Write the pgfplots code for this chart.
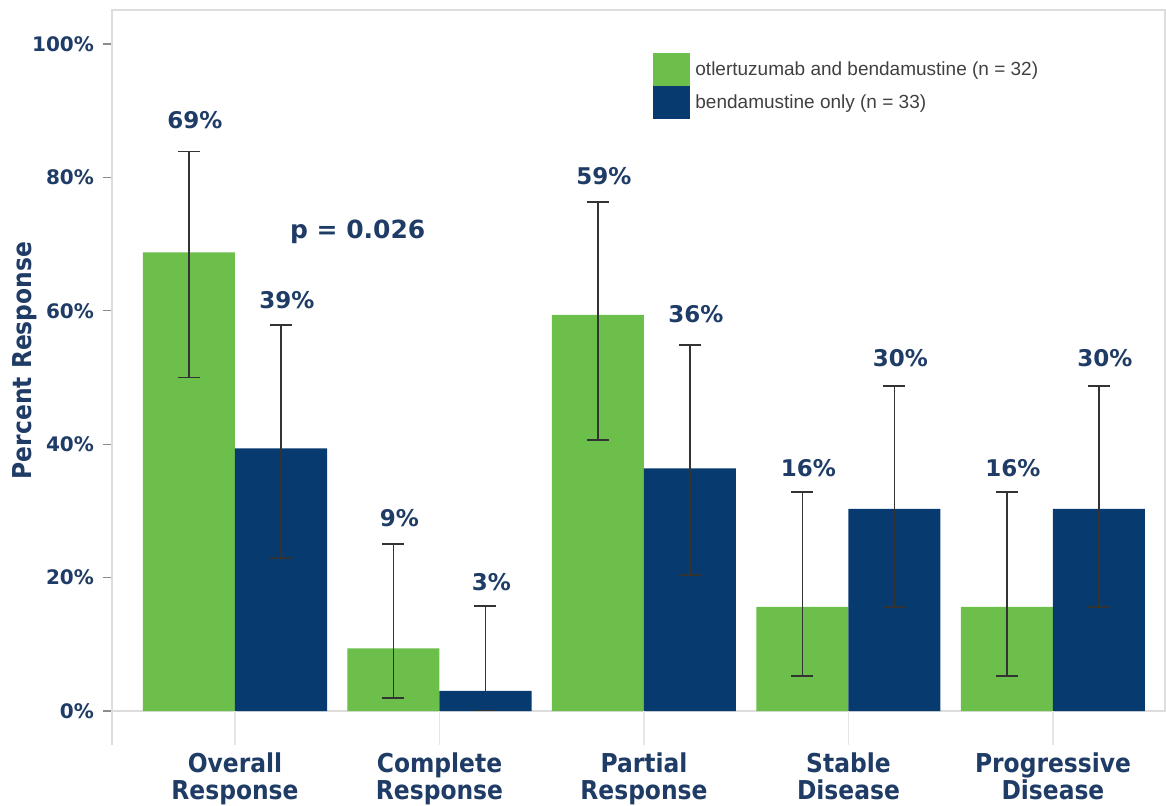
\documentclass[border=0pt]{standalone}
\usepackage{fontspec}
\setmainfont{DejaVu Sans}
\newfontfamily\cond{DejaVu Sans Condensed}
\newfontfamily\legfont{Liberation Sans}
\usepackage{pgfplots}
\usepackage{pgfplotstable}
\pgfplotsset{compat=1.18}
\definecolor{cgreen}{HTML}{6CBF4B}
\definecolor{cnavy}{HTML}{073A6E}
\definecolor{ctext}{HTML}{1F3C66}
\definecolor{cgrid}{HTML}{DDDDDD}

% x, value, error plus, error minus
\pgfplotstableread{
x y ep em
0 68.75 15.15 18.75
1 9.38 15.62 7.38
2 59.38 16.92 18.78
3 15.63 17.17 10.33
4 15.63 17.17 10.33
}\combo
\pgfplotstableread{
x y ep em
0 39.39 18.51 16.49
1 3.03 12.77 2.95
2 36.36 18.54 15.96
3 30.30 18.40 14.70
4 30.30 18.40 14.70
}\bendaonly
% label positions (x, label y, shown value)
\pgfplotstableread{
x ly v
0 88.6 69
1 28.9 9
2 80.2 59
3 36.4 16
4 36.4 16
}\combolab
\pgfplotstableread{
x ly v
0 61.6 39
1 19.3 3
2 59.5 36
3 52.9 30
4 52.9 30
}\bendalab

\begin{document}
\begin{tikzpicture}
\path[use as bounding box] (-56pt,-47pt) rectangle (527pt,355.5pt);
\begin{axis}[
  at={(0,0)}, anchor=south west,
  scale only axis, width=526.5pt, height=350.5pt,
  xmin=-0.6015, xmax=4.548, ymin=0, ymax=105.1,
  ybar, bar width=0.45,
  clip=false,
  axis line style={cgrid, line width=1pt},
  xtick={0,1,2,3,4},
  xticklabels={{Overall\\Response},{Complete\\Response},{Partial\\Response},{Stable\\Disease},{Progressive\\Disease}},
  xticklabel style={align=center, text=ctext, font=\cond\bfseries\fontsize{13}{13.5}\selectfont, yshift=-13pt},
  x tick style={draw=none},
  ytick={0,20,40,60,80,100},
  yticklabel={\pgfmathprintnumber{\tick}\%},
  yticklabel style={text=ctext, font=\bfseries\fontsize{10}{12}\selectfont, xshift=-1pt},
  /pgf/number format/assume math mode=true,
  ytick pos=left, xtick pos=bottom,
  tick align=outside, major tick length=4.5pt,
  y tick style={black!45, line width=0.6pt},
  ylabel={Percent Response},
  ylabel style={at={(axis description cs:-0.0825,0.5)}, anchor=center, text=ctext, font=\cond\bfseries\fontsize{13}{14}\selectfont},
  legend style={at={(0.5138,0.9387)}, anchor=north west, draw=none, fill=none, inner sep=0pt, row sep=0pt, column sep=2.5pt,
    font=\legfont\fontsize{9.5}{11}\selectfont, text=black!75, nodes={inner sep=0pt}, cells={anchor=west}},
  legend image code/.code={\fill[#1] (0pt,-8.25pt) rectangle (18.5pt,8.25pt);},
]
\addplot[fill=cgreen, draw=none, bar shift=-0.225,
  error bars/.cd, y dir=both, y explicit,
  error bar style={line width=0.9pt, black!80},
  error mark options={rotate=90, mark size=5.5pt, line width=0.9pt, black!80}]
  table[x=x, y=y, y error plus=ep, y error minus=em] {\combo};
\addlegendentry{otlertuzumab and bendamustine (n = 32)}
\addplot[fill=cnavy, draw=none, bar shift=0.225,
  error bars/.cd, y dir=both, y explicit,
  error bar style={line width=0.9pt, black!80},
  error mark options={rotate=90, mark size=5.5pt, line width=0.9pt, black!80}]
  table[x=x, y=y, y error plus=ep, y error minus=em] {\bendaonly};
\addlegendentry{bendamustine only (n = 33)}

\addplot[draw=none, fill=none, bar shift=-0.225, forget plot,
  nodes near coords={\pgfmathprintnumber[fixed,precision=0]{\pgfplotspointmeta}\%},
  point meta=explicit,
  every node near coord/.append style={anchor=center, xshift=3pt, text=ctext, font=\bfseries\fontsize{11.5}{13}\selectfont}]
  table[x=x, y=ly, meta=v] {\combolab};
\addplot[draw=none, fill=none, bar shift=0.225, forget plot,
  nodes near coords={\pgfmathprintnumber[fixed,precision=0]{\pgfplotspointmeta}\%},
  point meta=explicit,
  every node near coord/.append style={anchor=center, xshift=3pt, text=ctext, font=\bfseries\fontsize{11.5}{13}\selectfont}]
  table[x=x, y=ly, meta=v] {\bendalab};

\node[text=ctext, font=\bfseries\fontsize{12.5}{14}\selectfont] at (axis cs:0.60,71.8) {p = 0.026};

\draw[cgrid, line width=1pt] (rel axis cs:0,0) -- ([yshift=-17pt]rel axis cs:0,0);
\pgfplotsinvokeforeach{0,1,2,3,4}{
  \draw[cgrid!70, line width=0.8pt] (axis cs:#1,0) -- ([yshift=-17pt]axis cs:#1,0);
}
\end{axis}
\end{tikzpicture}
\end{document}
